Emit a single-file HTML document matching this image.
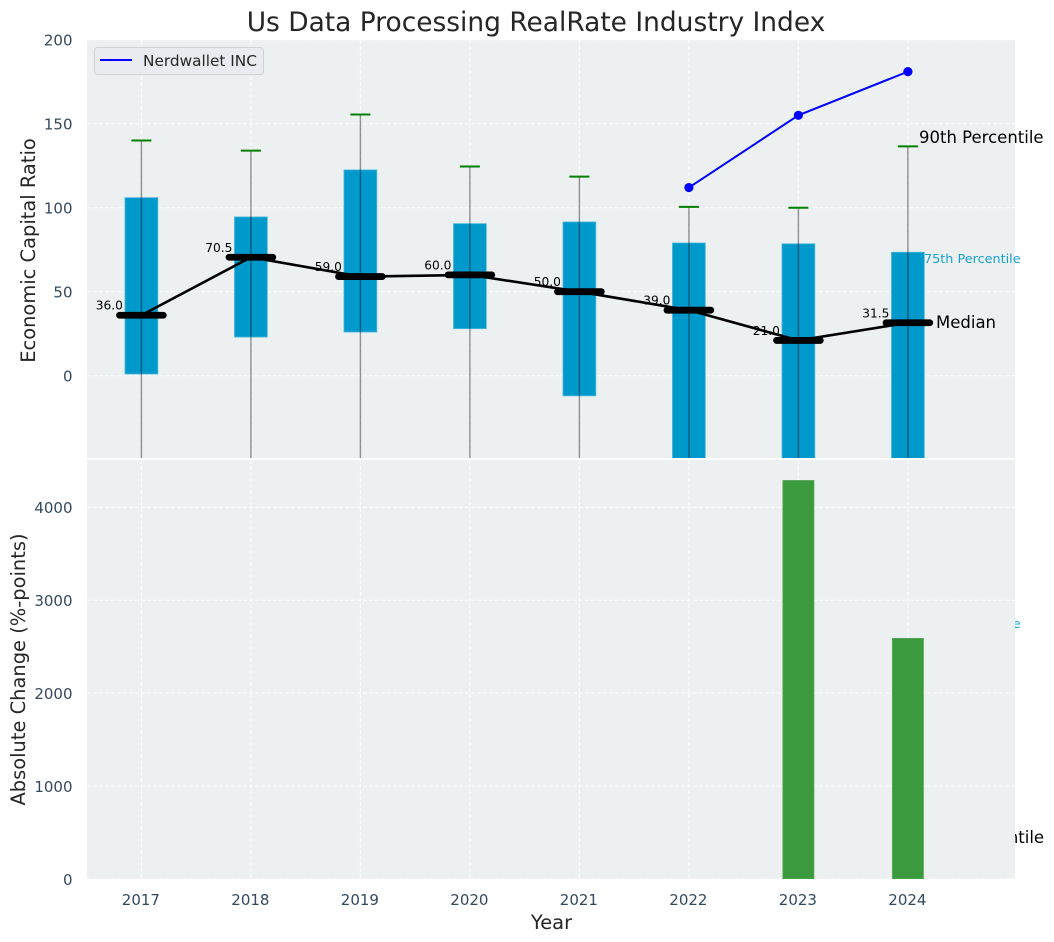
<!DOCTYPE html>
<html>
<head>
<meta charset="utf-8">
<title>Us Data Processing RealRate Industry Index</title>
<style>
html,body{margin:0;padding:0;background:#fff;width:1054px;height:942px;overflow:hidden}
svg{display:block}
text{font-family:"DejaVu Sans","Liberation Sans",sans-serif}
</style>
</head>
<body>
<svg id="chart" xmlns="http://www.w3.org/2000/svg" width="1054" height="942" viewBox="0 0 1054 942">
  <defs>
    <clipPath id="clip-top"><rect x="87" y="40" width="928" height="418"/></clipPath>
    <clipPath id="clip-bottom"><rect x="87" y="460" width="928" height="419"/></clipPath>
  </defs>
  <text x="919.5" y="843" font-size="16.5" fill="#000">90th Percentile</text>
  <text x="924" y="628" font-size="12.8" fill="#0099cc" fill-opacity="0.9">75th Percentile</text>
  <rect x="87" y="40" width="928" height="418" fill="#ecf0f1"/>
  <rect x="87" y="460" width="928" height="419" fill="#ecf0f1"/>
  <g id="top-grid" clip-path="url(#clip-top)"></g>
  <g id="bottom-grid" clip-path="url(#clip-bottom)"></g>
  <g id="top-marks" clip-path="url(#clip-top)"></g>
  <g id="bottom-marks" clip-path="url(#clip-bottom)"></g>
  <g id="tick-labels"></g>
  <g id="median-labels"></g>
  <text x="536" y="31" font-size="26.45" text-anchor="middle" fill="#262626">Us Data Processing RealRate Industry Index</text>
  <text transform="translate(35 250.5) rotate(-90)" font-size="19.45" text-anchor="middle" fill="#262626">Economic Capital Ratio</text>
  <text transform="translate(25 669.5) rotate(-90)" font-size="19.45" text-anchor="middle" fill="#262626">Absolute Change (%-points)</text>
  <text x="551.5" y="929" font-size="19.45" text-anchor="middle" fill="#262626">Year</text>
  <text x="919" y="143" font-size="16.5" fill="#000">90th Percentile</text>
  <text x="924" y="263" font-size="12.8" fill="#0099cc" fill-opacity="0.9">75th Percentile</text>
  <text x="936" y="328" font-size="16.5" fill="#000">Median</text>
  <g>
    <rect x="94.5" y="47.5" width="169" height="27" rx="3" fill="#e9ebf0" stroke="#d0d2d6" stroke-width="1"/>
    <line x1="100" y1="60" x2="132" y2="60" stroke="#0000ff" stroke-width="2"/>
    <text x="143" y="66" font-size="15.3" fill="#262626">Nerdwallet INC</text>
  </g>
</svg>
<script>
const years = [2017, 2018, 2019, 2020, 2021, 2022, 2023, 2024];
const p10 = [-100, -100, -100, -100, -100, -120, -120, -120];
const p25 = [1, 23, 26, 28, -12, -60, -70, -80];
const medians = [36, 70.5, 59, 60, 50, 39, 21, 31.5];
const p75 = [106, 94.5, 122.5, 90.5, 91.5, 79, 78.5, 73.5];
const p90 = [140, 134, 155.5, 124.5, 118.5, 100.5, 100, 136.5];
const companyYears = [2022, 2023, 2024];
const companyValues = [112, 155, 181];
const changeYears = [2023, 2024];
const changeValues = [4290, 2590];
const topTicks = [0, 50, 100, 150, 200];
const bottomTicks = [0, 1000, 2000, 3000, 4000];

const NS = 'http://www.w3.org/2000/svg';
function xScale(v) { return 141.4 + (v - 2017) * 109.5; }
function yTop(v) { return 375.7 - v * 1.68; }
function yBottom(v) { return 879 - v * 0.0929; }
function make(parent, tag, attrs, content) {
  const el = document.createElementNS(NS, tag);
  for (const k in attrs) el.setAttribute(k, attrs[k]);
  if (content !== undefined) el.textContent = content;
  document.getElementById(parent).appendChild(el);
  return el;
}
const dash = { stroke: '#ffffff', 'stroke-width': 1.1, 'stroke-dasharray': '4 2', 'stroke-opacity': 0.8 };

years.forEach(function (yr) {
  const a = make('top-grid', 'line', Object.assign({ x1: xScale(yr), x2: xScale(yr), y1: 40, y2: 458 }, dash));
  
  
  const b = make('bottom-grid', 'line', Object.assign({ x1: xScale(yr), x2: xScale(yr), y1: 460, y2: 879 }, dash));
  
  
  const t = make('tick-labels', 'text', { x: xScale(yr) - 0.5, y: 905, 'font-size': 15, 'text-anchor': 'middle', fill: '#34495e' }, yr);
  
  
});
topTicks.forEach(function (v) {
  const g = make('top-grid', 'line', Object.assign({ x1: 87, x2: 1015, y1: yTop(v), y2: yTop(v) }, dash));
  
  
  const t = make('tick-labels', 'text', { x: 72.5, y: yTop(v) + 5.8, 'font-size': 15, 'text-anchor': 'end', fill: '#34495e' }, v);
  
  
});
bottomTicks.forEach(function (v) {
  const g = make('bottom-grid', 'line', Object.assign({ x1: 87, x2: 1015, y1: yBottom(v), y2: yBottom(v) }, dash));
  
  
  const t = make('tick-labels', 'text', { x: 72.5, y: yBottom(v) + 5.8, 'font-size': 15, 'text-anchor': 'end', fill: '#34495e' }, v);
  
  
});

years.forEach(function (yr, i) {
  const x = xScale(yr);
  const half = 0.15 * 109.5;
  const bar = make('top-marks', 'rect', { x: x - half, y: yTop(p75[i]), width: half * 2, height: yTop(p25[i]) - yTop(p75[i]), fill: '#0099cc', stroke: '#4db8dc', 'stroke-width': 0.8 });
  
  
  const w = make('top-marks', 'line', { x1: x, x2: x, y1: yTop(p90[i]), y2: yTop(p10[i]), stroke: '#000', 'stroke-opacity': 0.42, 'stroke-width': 1.4 });
  
  
  const cap = make('top-marks', 'line', { x1: x - 10, x2: x + 10, y1: yTop(p90[i]), y2: yTop(p90[i]), stroke: '#008000', 'stroke-width': 2 });
  
  
});

const medianPath = make('top-marks', 'polyline', { fill: 'none', stroke: '#000', 'stroke-width': 2.6, points: years.map(function (yr, i) { return xScale(yr) + ',' + yTop(medians[i]); }).join(' ') });



years.forEach(function (yr, i) {
  const x = xScale(yr);
  const m = make('top-marks', 'line', { x1: x - 0.2 * 109.5, x2: x + 0.2 * 109.5, y1: yTop(medians[i]), y2: yTop(medians[i]), stroke: '#000', 'stroke-width': 6.8, 'stroke-linecap': 'round' });
  
  
  const t = make('median-labels', 'text', { x: x - 18.5, y: yTop(medians[i]) - 5.5, 'font-size': 12.2, 'text-anchor': 'end', fill: '#000' }, medians[i].toFixed(1));
  
  
});

const companyLine = make('top-marks', 'polyline', { fill: 'none', stroke: '#0000ff', 'stroke-width': 2, points: companyYears.map(function (yr, i) { return xScale(yr) + ',' + yTop(companyValues[i]); }).join(' ') });


companyYears.forEach(function (yr, i) {
  const c = make('top-marks', 'circle', { cx: xScale(yr), cy: yTop(companyValues[i]), r: 4.6, fill: '#0000ff' });
  
  
});

changeYears.forEach(function (yr, i) {
  const half = 0.142 * 109.5;
  const bar = make('bottom-marks', 'rect', { x: xScale(yr) - half, y: yBottom(changeValues[i]), width: half * 2, height: yBottom(0) - yBottom(changeValues[i]), fill: '#3c9a3e', stroke: '#56aa58', 'stroke-width': 0.8 });
  
  
});
</script>
</body>
</html>
